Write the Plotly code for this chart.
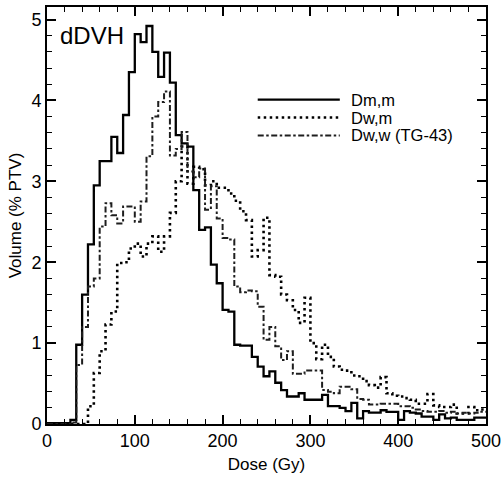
import plotly.graph_objects as go

# Dose bin edges (Gy)
dose_edges = [0, 6.67, 13.33, 20, 26.67, 33.33, 40, 46.67, 53.33, 60,
              66.67, 73.33, 80, 86.67, 93.33, 100, 106.67, 113.33, 120, 126.67,
              133.33, 140, 146.67, 153.33, 160, 166.67, 173.33, 180, 186.67, 193.33,
              200, 206.67, 213.33, 220, 226.67, 233.33, 240, 246.67, 253.33, 260,
              266.67, 273.33, 280, 286.67, 293.33, 300, 306.67, 313.33, 320, 326.67,
              333.33, 340, 346.67, 353.33, 360, 366.67, 373.33, 380, 386.67, 393.33,
              400, 406.67, 413.33, 420, 426.67, 433.33, 440, 446.67, 453.33, 460,
              466.67, 473.33, 480, 486.67, 493.33, 500]

# Differential DVH values (% PTV) per bin
dm_m = [0.01, 0.01, 0.01, 0.01, 0.05, 0.98, 1.60, 2.22, 2.95, 3.25,
        3.25, 3.55, 3.35, 3.82, 4.35, 4.82, 4.72, 4.92, 4.60, 4.29,
        4.59, 4.22, 3.57, 3.47, 3.43, 2.89, 2.40, 2.43, 1.97, 1.74,
        1.41, 1.39, 0.98, 0.97, 0.97, 0.83, 0.71, 0.59, 0.65, 0.51,
        0.42, 0.34, 0.34, 0.38, 0.30, 0.30, 0.30, 0.36, 0.22, 0.22,
        0.20, 0.16, 0.26, 0.07, 0.16, 0.14, 0.14, 0.17, 0.15, 0.15,
        0.05, 0.16, 0.14, 0.13, 0.09, 0.09, 0.05, 0.12, 0.07, 0.08,
        0.05, 0.05, 0.05, 0.08, 0.08]

dw_m = [0, 0, 0, 0, 0, 0, 0, 0.22, 0.63, 0.90,
        1.23, 1.39, 1.99, 2.00, 2.17, 2.23, 2.07, 2.23, 2.32, 2.13,
        2.32, 2.61, 3.00, 3.43, 2.97, 3.18, 3.15, 2.95, 3.00, 2.92,
        2.92, 2.85, 2.76, 2.63, 2.52, 2.07, 2.15, 2.55, 1.84, 1.82,
        1.60, 1.53, 1.41, 1.25, 1.56, 1.00, 0.80, 0.98, 0.83, 0.71,
        0.67, 0.66, 0.60, 0.59, 0.53, 0.48, 0.45, 0.58, 0.38, 0.35,
        0.34, 0.32, 0.30, 0.25, 0.25, 0.37, 0.23, 0.21, 0.21, 0.24,
        0.13, 0.13, 0.21, 0.17, 0.18]

dw_w = [0, 0, 0, 0, 0.02, 0.73, 1.20, 1.70, 1.80, 2.44,
        2.73, 2.58, 2.48, 2.69, 2.69, 2.50, 2.75, 3.31, 3.80, 3.98,
        4.11, 3.32, 3.40, 3.61, 3.12, 3.05, 3.16, 2.65, 2.94, 2.54,
        2.30, 2.28, 1.70, 1.63, 1.65, 1.64, 1.45, 1.04, 1.20, 0.96,
        0.79, 0.90, 0.62, 0.62, 0.66, 0.66, 0.66, 0.42, 0.40, 0.38,
        0.46, 0.46, 0.43, 0.31, 0.30, 0.24, 0.24, 0.25, 0.25, 0.25,
        0.22, 0.22, 0.20, 0.18, 0.16, 0.15, 0.15, 0.16, 0.14, 0.15,
        0.13, 0.14, 0.13, 0.14, 0.15]

series_names = ["Dm,m", "Dw,m", "Dw,w (TG-43)"]
series_values = [dm_m, dw_m, dw_w]
styles = [
    dict(color="black", width=2.3, dash="solid"),
    dict(color="black", width=2.6, dash="2.5px,3.5px"),
    dict(color="#1e1e1e", width=2.0, dash="6px,2.5px,2.5px,2.5px"),
]

FONT = "Liberation Sans, Arial, Helvetica, sans-serif"

fig = go.Figure()
for name, vals, st in zip(series_names, series_values, styles):
    fig.add_trace(go.Scatter(
        x=dose_edges, y=vals + [vals[-1]], name=name, mode="lines",
        line=dict(shape="hv", **st), showlegend=False,
    ))

# Manual legend (long line samples as in the original)
legend_rows_y = [0.778, 0.735, 0.692]
for name, st, yy in zip(series_names, styles, legend_rows_y):
    fig.add_shape(type="line", xref="paper", yref="paper",
                  x0=0.48, x1=0.667, y0=yy, y1=yy,
                  line=dict(color=st["color"], width=st["width"], dash=st["dash"]))
    fig.add_annotation(xref="paper", yref="paper", x=0.69, y=yy,
                       xanchor="left", yanchor="middle", showarrow=False,
                       borderpad=0,
                       text=name, font=dict(family=FONT, size=16.5, color="black"))

fig.add_annotation(xref="paper", yref="paper", x=0.024, y=0.932,
                   xanchor="left", yanchor="middle", showarrow=False,
                   text="dDVH", font=dict(family=FONT, size=24, color="black"))

axis_common = dict(
    showline=True, linewidth=1.6, linecolor="black", mirror="ticks",
    ticks="inside", ticklen=9, tickwidth=1.5, tickcolor="black",
    showgrid=False, zeroline=False, ticklabeloverflow="allow", automargin=False,
    tickfont=dict(family=FONT, size=18, color="black"),
)

fig.update_layout(
    width=502, height=477,
    margin=dict(l=47, r=16, t=7, b=53),
    paper_bgcolor="white", plot_bgcolor="white",
    font=dict(family=FONT, color="black"),
    xaxis=dict(range=[0, 500], dtick=100, tick0=0,
               minor=dict(dtick=20, ticklen=5, tickwidth=1, ticks="inside", tickcolor="black"),
               title=dict(text="Dose (Gy)", font=dict(family=FONT, size=17), standoff=8),
               **axis_common),
    yaxis=dict(range=[0, 5.155], dtick=1, tick0=0,
               minor=dict(dtick=0.2, ticklen=5, tickwidth=1, ticks="inside", tickcolor="black"),
               title=dict(text="Volume (% PTV)", font=dict(family=FONT, size=17), standoff=6),
               **axis_common),
)

fig.write_html("out.html")
